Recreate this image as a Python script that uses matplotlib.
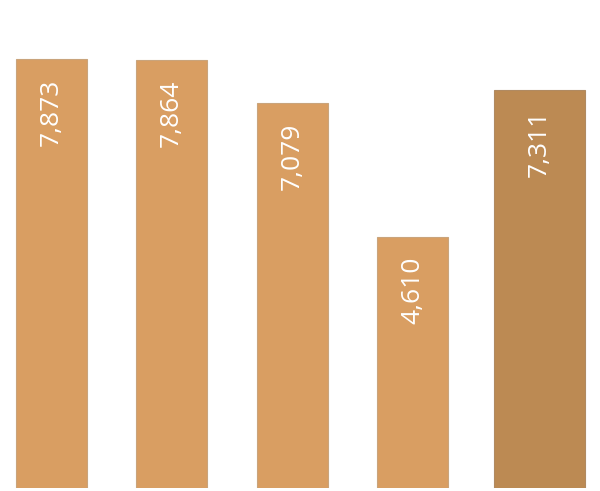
import matplotlib.pyplot as plt

# values
values = [7873, 7864, 7079, 4610, 7311]
labels = ['7,873', '7,864', '7,079', '4,610', '7,311']
positions = [0, 1, 2, 3, 4.055]
widths = [0.59, 0.59, 0.59, 0.59, 0.756]
colors = ['#D99E62', '#D99E62', '#D99E62', '#D99E62', '#BC8A53']
edges = ['#C9A47C', '#C9A47C', '#C9A47C', '#C9A47C', '#B08A62']

fig = plt.figure(figsize=(6, 4.91), dpi=100)
ax = fig.add_axes([0, 3 / 491, 1, 488 / 491])

bars = ax.bar(positions, values, width=widths, color=colors, edgecolor=edges, linewidth=0.8)

for b, lab in zip(bars, labels):
    ax.annotate(lab, (b.get_x() + b.get_width() / 2, b.get_height()),
                xytext=(0, -14), textcoords='offset points',
                rotation=90, ha='center', va='top', color='white',
                fontsize=19, family='Open Sans')

ax.set_xlim(-0.426, 4.557)
ax.set_ylim(0, 8966)
ax.axis('off')

fig.savefig('out.png', dpi=100)
